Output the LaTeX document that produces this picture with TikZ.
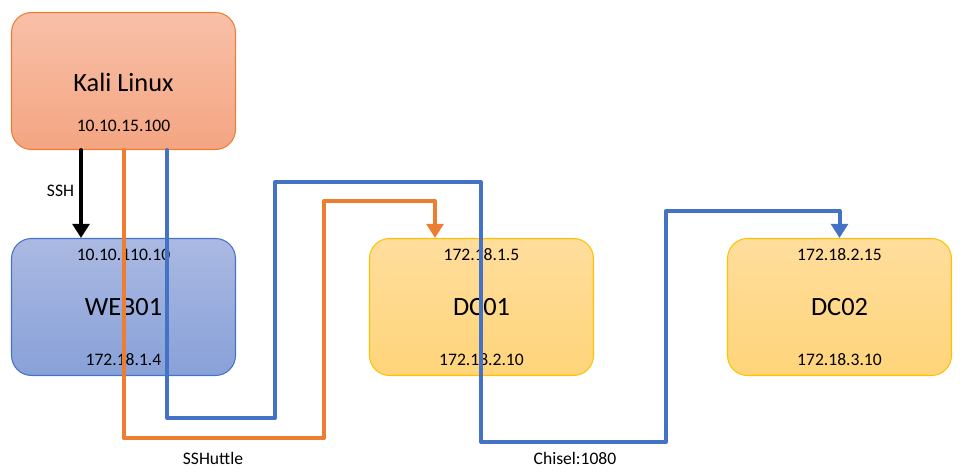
\documentclass[tikz,border=0pt]{standalone}
\usepackage{fontspec}
\setmainfont{Carlito}
\usetikzlibrary{arrows.meta}

\definecolor{kalitop}{RGB}{248,192,168}
\definecolor{kalibot}{RGB}{244,165,130}
\definecolor{kaliline}{RGB}{237,125,49}
\definecolor{webtop}{RGB}{171,185,226}
\definecolor{webbot}{RGB}{136,161,216}
\definecolor{webline}{RGB}{68,114,196}
\definecolor{dctop}{RGB}{255,221,156}
\definecolor{dcbot}{RGB}{255,213,122}
\definecolor{dcline}{RGB}{255,192,0}

\begin{document}
\begin{tikzpicture}[line cap=round,line join=round,>={Triangle[width=9.5pt,length=8pt]},x=0.02cm,y=-0.02cm,
	host/.style={rectangle,rounded corners=0.4cm,minimum width=4.48cm,minimum height=2.74cm,line width=0.6pt},
	kalibox/.style={host,draw=kaliline,top color=kalitop,bottom color=kalibot},
	webbox/.style={host,draw=webline,top color=webtop,bottom color=webbot},
	dcbox/.style={host,draw=dcline,top color=dctop,bottom color=dcbot},
	hostname/.style={font=\fontsize{15}{18}\selectfont,inner sep=0pt},
	ip/.style={font=\fontsize{10}{12}\selectfont,inner sep=0pt},
	tag/.style={font=\fontsize{10}{12}\selectfont,inner sep=0pt},
	tunnel/.style={line width=0.08cm}]
		\useasboundingbox (0,0) rectangle (968,476);
		% hosts
		\node[kalibox] (kali) at (123.5,81) {};
		\node[webbox] (web) at (123.5,307) {};
		\node[dcbox] (dc1) at (481.5,307) {};
		\node[dcbox] (dc2) at (839.5,307) {};
		% texts
		\node[hostname] (kaliname) at (123.5,82) {Kali Linux};
		\node[ip] (kaliip) at (123.5,126) {10.10.15.100};
		\node[ip] (webtopip) at (123.5,254.5) {10.10.110.10};
		\node[hostname] (webname) at (123.5,307.5) {WEB01};
		\node[ip] (webbotip) at (123.5,360) {172.18.1.4};
		\node[ip] (dc1topip) at (481.5,254.5) {172.18.1.5};
		\node[hostname] (dc1name) at (481.5,307.5) {DC01};
		\node[ip] (dc1botip) at (481.5,360) {172.18.2.10};
		\node[ip] (dc2topip) at (839.5,254.5) {172.18.2.15};
		\node[hostname] (dc2name) at (839.5,307.5) {DC02};
		\node[ip] (dc2botip) at (839.5,360) {172.18.3.10};
		% connections
		\draw[tunnel,black,->] ([xshift=-0.85cm]kali.south) -- ([xshift=-0.85cm]web.north);
		\draw[tunnel,kaliline,->] (kali.south) |- (324,438) -- (324,201) -| ([xshift=-0.93cm]dc1.north);
		\draw[tunnel,webline,->] ([xshift=0.87cm]kali.south) |- (275,418) |- (481,182) |- (666,442) -- (666,211) -| (dc2.north);
		\node[tag] (sshlabel) at (60.5,191) {SSH};
		\node[tag] (sshuttle) at (213,458.5) {SSHuttle};
		\node[tag] (chisel) at (575,458.5) {Chisel:1080};
\end{tikzpicture}
\end{document}
